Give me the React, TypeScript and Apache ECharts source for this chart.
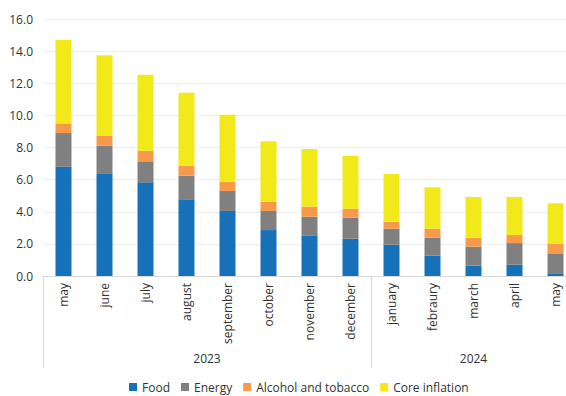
import React, { useEffect, useRef } from "react";
import * as echarts from "echarts";

const months = ["may", "june", "july", "august", "september", "october", "november", "december", "january", "febraury", "march", "april", "may"];
const years = ["2023", "2024"];
const yearCenters = [4, 10.5];
const groupBounds = [0, 8, 13];
const yTicks = [0, 2, 4, 6, 8, 10, 12, 14, 16];

const food = [6.8, 6.4, 5.83, 4.78, 4.05, 2.86, 2.53, 2.32, 1.95, 1.26, 0.64, 0.7, 0.17];
const energy = [2.1, 1.7, 1.31, 1.47, 1.24, 1.19, 1.16, 1.31, 1.0, 1.12, 1.19, 1.35, 1.2];
const alcohol = [0.6, 0.65, 0.66, 0.62, 0.58, 0.58, 0.63, 0.56, 0.43, 0.57, 0.55, 0.5, 0.62];
const core = [5.2, 5.0, 4.73, 4.54, 4.17, 3.76, 3.59, 3.3, 2.97, 2.57, 2.54, 2.37, 2.54];

const seriesNames = ["Food", "Energy", "Alcohol and tobacco", "Core inflation"];
const seriesData = [food, energy, alcohol, core];
const colors = ["#1771B9", "#808080", "#F7994A", "#F2E91B"];

const FONT = "'Open Sans', 'Noto Sans', sans-serif";

export default function App() {
  const ref = useRef<HTMLDivElement>(null);
  useEffect(() => {
    if (!ref.current) return;
    const chart = echarts.init(ref.current, undefined, { renderer: "svg" });
    chart.setOption({
      animation: false,
      textStyle: { fontFamily: FONT },
      grid: { left: 43, right: 0, top: 19, bottom: 120, containLabel: false },
      legend: {
        data: seriesNames,
        left: 129,
        top: 381,
        padding: 0,
        itemWidth: 8,
        itemHeight: 8,
        itemGap: 11,
        icon: "rect",
        textStyle: { fontSize: 12, color: "#333", fontFamily: FONT },
      },
      xAxis: [
        {
          type: "category",
          data: months,
          axisLine: { show: true, lineStyle: { color: "#d9d9d9", width: 1 } },
          axisTick: { show: false },
          axisLabel: {
            rotate: 90,
            interval: 0,
            fontSize: 12,
            color: "#333",
            fontFamily: FONT,
            margin: 7,
          },
        },
        {
          type: "value",
          min: 0,
          max: 13,
          position: "bottom",
          axisLine: { show: false },
          splitLine: { show: false },
          axisTick: {
            show: true,
            length: 92,
            customValues: groupBounds,
            lineStyle: { color: "#d9d9d9", width: 1 },
          },
          axisLabel: {
            show: true,
            customValues: yearCenters,
            margin: 76,
            fontSize: 12,
            color: "#333",
            fontFamily: FONT,
            formatter: (v: number) => years[yearCenters.indexOf(v)] ?? "",
          },
        },
      ],
      yAxis: {
        type: "value",
        min: yTicks[0],
        max: yTicks[yTicks.length - 1],
        interval: 2,
        axisLine: { show: false },
        axisTick: { show: false },
        splitLine: { lineStyle: { color: "#efefef", width: 1 } },
        axisLabel: {
          fontSize: 12,
          color: "#333",
          fontFamily: FONT,
          margin: 10,
          formatter: (v: number) => v.toFixed(1),
        },
      },
      series: seriesNames.map((name, i) => ({
        name,
        type: "bar",
        stack: "total",
        xAxisIndex: 0,
        barWidth: 16,
        data: seriesData[i],
        itemStyle: { color: colors[i] },
      })),
    });
    return () => chart.dispose();
  }, []);
  return (
    <div style={{ position: "absolute", left: 0, top: 0, width: 566, height: 396, overflow: "hidden" }}>
      <div ref={ref} style={{ width: 576, height: 396 }} />
    </div>
  );
}
